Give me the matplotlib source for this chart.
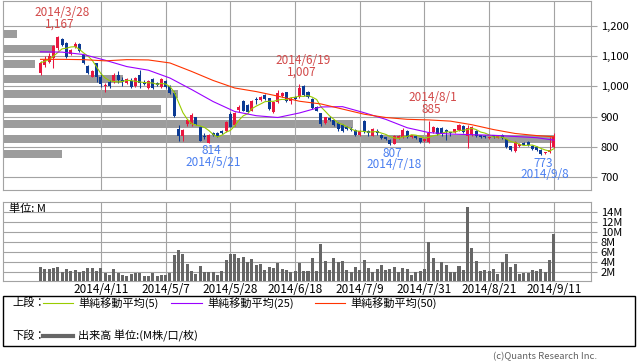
import matplotlib
matplotlib.use("Agg")
import matplotlib.pyplot as plt
import numpy as np
import pandas as pd
from matplotlib.lines import Line2D
from matplotlib.patches import Rectangle

plt.rcParams['font.family'] = ['Noto Sans CJK JP', 'DejaVu Sans']

# trading days (TSE calendar, 2014/3/24 - 2014/9/11)
holidays = ['2014-04-29', '2014-05-05', '2014-05-06', '2014-07-21']
dates = pd.bdate_range('2014-03-24', '2014-09-11', freq='C', holidays=holidays)

opens = [1044, 1071, 1081, 1093, 1127, 1156, 1145, 1108, 1132, 1141,
         1104, 1068, 1033, 1077, 1032, 1000, 1016, 1016, 1038, 1022,
         1010, 1019, 1002, 1038, 1016, 994, 1025, 1010, 999, 1017,
         1002, 977, 859, 836, 876, 876, 898, 865, 836, 814,
         847, 845, 853, 853, 908, 872, 922, 952, 938, 920,
         958, 955, 972, 961, 916, 950, 968, 980, 953, 966,
         966, 1002, 983, 958, 933, 911, 878, 896, 888, 880,
         872, 866, 860, 856, 838, 886, 851, 837, 853, 840,
         831, 822, 808, 830, 832, 853, 831, 836, 828, 818,
         817, 850, 862, 863, 855, 848, 848, 856, 869, 835,
         840, 852, 838, 836, 829, 838, 830, 840, 824, 801,
         786, 802, 812, 816, 804, 800, 789, 779, 782, 800]
highs = [1085, 1102, 1112, 1138, 1167, 1160, 1148, 1126, 1146, 1143,
         1106, 1070, 1054, 1079, 1045, 1010, 1021, 1046, 1052, 1030,
         1027, 1027, 1030, 1055, 1020, 1022, 1028, 1014, 1028, 1020,
         1005, 985, 872, 858, 893, 911, 900, 868, 847, 842,
         850, 850, 856, 886, 915, 916, 939, 955, 942, 955,
         966, 970, 976, 963, 952, 988, 982, 983, 966, 970,
         1007, 1004, 986, 962, 936, 912, 900, 902, 890, 882,
         875, 868, 864, 858, 855, 890, 855, 862, 858, 842,
         833, 824, 840, 840, 862, 856, 840, 838, 830, 830,
         885, 870, 865, 866, 860, 850, 860, 876, 872, 872,
         870, 855, 840, 838, 835, 840, 838, 842, 826, 803,
         820, 812, 815, 818, 806, 803, 791, 784, 832, 845]
lows = [1038, 1065, 1077, 1060, 1122, 1133, 1096, 1104, 1127, 1116,
        1074, 1043, 1030, 1014, 997, 981, 994, 1010, 1013, 1002,
        1008, 994, 999, 994, 1004, 992, 990, 1000, 996, 994,
        974, 898, 820, 820, 870, 869, 873, 818, 825, 814,
        835, 831, 843, 850, 864, 869, 916, 917, 913, 917,
        942, 952, 955, 921, 913, 944, 964, 949, 942, 955,
        963, 968, 962, 926, 917, 868, 876, 886, 870, 851,
        848, 855, 852, 837, 835, 845, 835, 835, 840, 826,
        822, 807, 809, 826, 830, 830, 828, 826, 813, 815,
        812, 847, 839, 836, 822, 834, 846, 853, 845, 797,
        835, 832, 828, 828, 825, 829, 828, 826, 797, 786,
        784, 800, 805, 804, 790, 787, 773, 777, 780, 795]
closes = [1079, 1088, 1101, 1134, 1163, 1138, 1099, 1121, 1140, 1119,
          1077, 1046, 1051, 1030, 1008, 1005, 1002, 1038, 1022, 1016,
          1024, 997, 1027, 1010, 1008, 1019, 994, 1005, 1025, 997,
          977, 902, 834, 856, 889, 904, 876, 820, 831, 839,
          839, 834, 847, 883, 867, 913, 931, 920, 916, 952,
          955, 966, 958, 924, 950, 977, 977, 952, 957, 958,
          996, 972, 966, 930, 920, 874, 898, 890, 873, 858,
          852, 858, 855, 840, 853, 848, 846, 860, 845, 828,
          826, 810, 837, 836, 855, 833, 838, 830, 817, 826,
          845, 864, 842, 845, 850, 845, 858, 872, 848, 862,
          866, 836, 832, 831, 831, 832, 835, 830, 800, 789,
          815, 808, 807, 806, 792, 790, 777, 781, 788, 831]
# volume, M shares
volumes = [3.0, 2.5, 2.5, 2.7, 2.9, 2.0, 2.5, 2.1, 2.3, 1.9,
           2.1, 2.7, 2.7, 2.1, 2.7, 1.8, 1.3, 2.5, 1.7, 1.4,
           1.2, 1.6, 1.7, 1.7, 1.1, 1.1, 1.7, 1.1, 1.3, 1.3,
           1.7, 5.3, 6.3, 5.5, 3.5, 2.1, 1.5, 3.1, 1.9, 1.9,
           1.9, 1.3, 2.1, 4.3, 5.5, 5.5, 4.7, 4.9, 3.9, 4.5,
           3.3, 3.5, 2.3, 2.9, 2.7, 3.7, 2.5, 2.3, 1.9, 2.1,
           3.8, 2.1, 2.1, 4.7, 2.1, 7.6, 4.1, 2.3, 4.7, 3.9,
           4.1, 2.3, 2.0, 2.9, 2.3, 4.3, 2.7, 2.0, 2.5, 3.3,
           2.3, 2.5, 2.9, 2.0, 2.7, 2.5, 1.3, 2.0, 2.1, 2.5,
           8.0, 4.7, 2.3, 3.9, 3.3, 2.0, 2.0, 3.1, 2.3, 14.9,
           6.7, 4.1, 2.1, 2.3, 2.1, 2.5, 1.5, 3.9, 5.5, 2.9,
           3.5, 1.5, 1.7, 1.7, 2.3, 2.1, 2.5, 2.0, 4.3, 9.5]

# moving averages (every 5th session)
ma_idx = [0, 5, 10, 15, 20, 25, 30, 35, 40, 45, 50, 55, 60, 65, 70,
          75, 80, 85, 90, 95, 100, 105, 110, 115, 119]
ma25 = [1115, 1114, 1106, 1087, 1066, 1054, 1028, 990, 950, 917, 903, 897, 912,
        932, 933, 913, 891, 863, 847, 842, 840, 838, 834, 830, 822]
ma50 = [1090, 1090, 1089, 1085, 1089, 1088, 1078, 1050, 1020, 995, 983, 968, 951,
        942, 925, 908, 897, 891, 889, 885, 873, 857, 844, 837, 833]

# volume by price band
vbp_price = [1175, 1125, 1075, 1025, 975, 925, 875, 825, 775]
vbp_vol = [3.5, 13.3, 8.2, 30.6, 44.6, 40.3, 89.3, 140.8, 15.1]

tick_dates = ['2014-04-11', '2014-05-07', '2014-05-28', '2014-06-18',
              '2014-07-09', '2014-07-31', '2014-08-21', '2014-09-11']
marks = [('2014-03-28', 'high'), ('2014-06-19', 'high'), ('2014-08-01', 'high'),
         ('2014-05-21', 'low'), ('2014-07-18', 'low'), ('2014-09-08', 'low')]

UP, DOWN = '#e8173f', '#0b3a94'
GRID = '#a3a3a3'
W, H = 638, 362


def fx(px):
    return px / W


def fy(py):
    return 1 - py / H


fig = plt.figure(figsize=(6.38, 3.62), dpi=100)
rect_p = [fx(3), fy(190), fx(588), 189.5 / H]
rect_v = [fx(3), fy(280.5), fx(588), 79 / H]

ax_vbp = fig.add_axes(rect_p)
ax = fig.add_axes(rect_p)
axv = fig.add_axes(rect_v)
ax.patch.set_visible(False)

ylim_p = (656.4, 1285.3)
xlim = (-8.7, 127.6)

ax_vbp.barh(vbp_price, vbp_vol, height=27, color='#9c9c9c', lw=0)
ax_vbp.set_xlim(0, 150)
ax_vbp.set_ylim(*ylim_p)
ax_vbp.axis('off')

x = np.arange(len(closes))
o, h, l, c = map(np.array, (opens, highs, lows, closes))
col = np.where(c >= o, UP, DOWN)
ax.vlines(x, l, h, colors=col, lw=0.75, zorder=3)
ax.bar(x, np.maximum(np.abs(c - o), 1.5), bottom=np.minimum(o, c), width=0.7,
       color=col, lw=0, zorder=4)

ma5 = pd.Series(closes).rolling(5, min_periods=1).mean()
ax.plot(x, ma5, color='#99cc00', lw=0.8, zorder=5)
ax.plot(ma_idx, ma25, color='#9a00ff', lw=0.8, zorder=5)
ax.plot(ma_idx, ma50, color='#ff3300', lw=0.8, zorder=5)

ticks = dates.get_indexer(pd.to_datetime(tick_dates))
tick_labels = [f"{d.year}/{d.month}/{d.day}" for d in pd.to_datetime(tick_dates)]

for a in (ax, axv):
    a.set_xlim(*xlim)
    a.set_xticks(ticks)
    a.grid(True, color=GRID, lw=0.8)
    a.set_axisbelow(True)
    for s in a.spines.values():
        s.set_color(GRID)
        s.set_linewidth(0.8)
    a.yaxis.tick_right()
    a.tick_params(axis='y', length=4.5, width=0.8, color=GRID, pad=2.5)

ax.set_ylim(*ylim_p)
ax.set_yticks([700, 800, 900, 1000, 1100, 1200])
ax.set_yticklabels([f"{v:,}" for v in [700, 800, 900, 1000, 1100, 1200]], fontsize=8)
ax.tick_params(axis='x', length=0, labelbottom=False)

axv.bar(x, volumes, width=0.7, color='#666666', lw=0, zorder=3)
axv.set_ylim(0.24, 16.04)
vt = [2, 4, 6, 8, 10, 12, 14]
axv.set_yticks(vt)
axv.set_yticklabels([f"{v}M" for v in vt], fontsize=8)
axv.set_xticklabels(tick_labels, fontsize=8.5)
axv.tick_params(axis='x', length=0, pad=1.5)
axv.text(0.01, 0.905, '単位: M', transform=axv.transAxes, fontsize=8, va='center')

for d, kind in marks:
    ts = pd.Timestamp(d)
    i = dates.get_loc(ts)
    lab = f"{ts.year}/{ts.month}/{ts.day}"
    if kind == 'high':
        v, clr, dv, dd = highs[i], '#d24848', 8.6, 17.3
    else:
        v, clr, dv, dd = lows[i], '#4a7ff0', -6.1, -14.4
    ax.annotate(f"{v:,}", (i, v), xytext=(1.5, dv), textcoords='offset points',
                ha='center', va='center', color=clr, fontsize=8.5, zorder=6)
    ax.annotate(lab, (i, v), xytext=(3, dd), textcoords='offset points',
                ha='center', va='center', color=clr, fontsize=8.5, zorder=6)

# legend box
fig.add_artist(Rectangle((fx(3), fy(346)), fx(632), 50 / H, transform=fig.transFigure,
                         fill=False, edgecolor='black', lw=1))
r1, r2 = fy(303), fy(336)
fig.text(fx(12), r1, '上段：', fontsize=8, va='center')
fig.text(fx(12), r2, '下段：', fontsize=8, va='center')
legend_items = [(43, 73, r1, '#99cc00', 0.8, '単純移動平均(5)'),
                (171, 202, r1, '#9a00ff', 0.8, '単純移動平均(25)'),
                (315, 345, r1, '#ff3300', 0.8, '単純移動平均(50)'),
                (43, 73, r2, '#666666', 3.0, '出来高 単位:(M株/口/枚)')]
for x0, x1, yy, clr, lw, txt in legend_items:
    fig.add_artist(Line2D([fx(x0), fx(x1)], [yy, yy], transform=fig.transFigure,
                          color=clr, lw=lw))
    fig.text(fx(x1 + 5), yy, txt, fontsize=8, va='center')

fig.text(fx(597), fy(357), '(c)Quants Research Inc.', fontsize=6.8, color='#606060',
         ha='right', va='center')

fig.savefig('out.png', dpi=100)
